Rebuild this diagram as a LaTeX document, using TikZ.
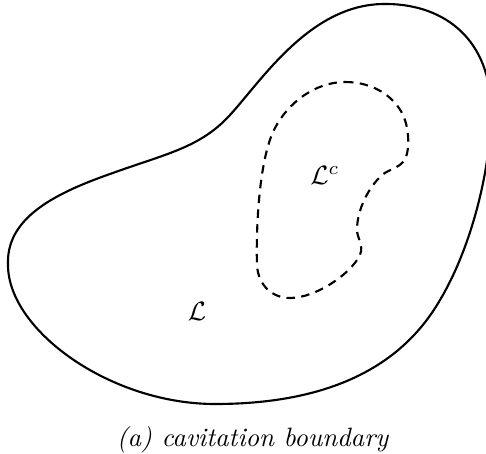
\documentclass[tikz,border=0pt]{standalone}
\begin{document}
\begin{tikzpicture}[x=0.377pt,y=-0.377pt,
  outline/.style={line width=0.8pt},
  dashline/.style={line width=0.8pt,dash pattern=on 3.2pt off 2.4pt}]
\useasboundingbox (0,0) rectangle (486,454);
\begin{scope}
\clip (0,0) rectangle (486,454);
\draw[outline] (383,4) .. controls (440,3) and (488,35) .. (491,105)
  .. controls (492,170) and (470,250) .. (440,300)
  .. controls (395,378) and (310,404) .. (215,404)
  .. controls (110,404) and (8,330) .. (8,265)
  .. controls (6,220) and (50,195) .. (110,174)
  .. controls (165,154) and (200,148) .. (230,115)
  .. controls (262,80) and (310,5) .. (383,4) -- cycle;
\end{scope}
\draw[dashline] (345,82) .. controls (375,82) and (395,98) .. (403,115)
  .. controls (410,130) and (410,155) .. (403,162)
  .. controls (398,168) and (388,170) .. (382,175)
  .. controls (368,188) and (357,210) .. (357,230)
  .. controls (357,238) and (364,245) .. (360,255)
  .. controls (350,275) and (315,298) .. (290,298)
  .. controls (272,298) and (258,285) .. (257,265)
  .. controls (256,235) and (258,160) .. (275,128)
  .. controls (288,103) and (315,82) .. (345,82) -- cycle;
\node (lc) at (325,175) {$\mathcal{L}^c$};
\node (l) at (197,311) {$\mathcal{L}$};
\node (cap) at (253,440) {\textit{(a) cavitation boundary}};
\end{tikzpicture}
\end{document}
